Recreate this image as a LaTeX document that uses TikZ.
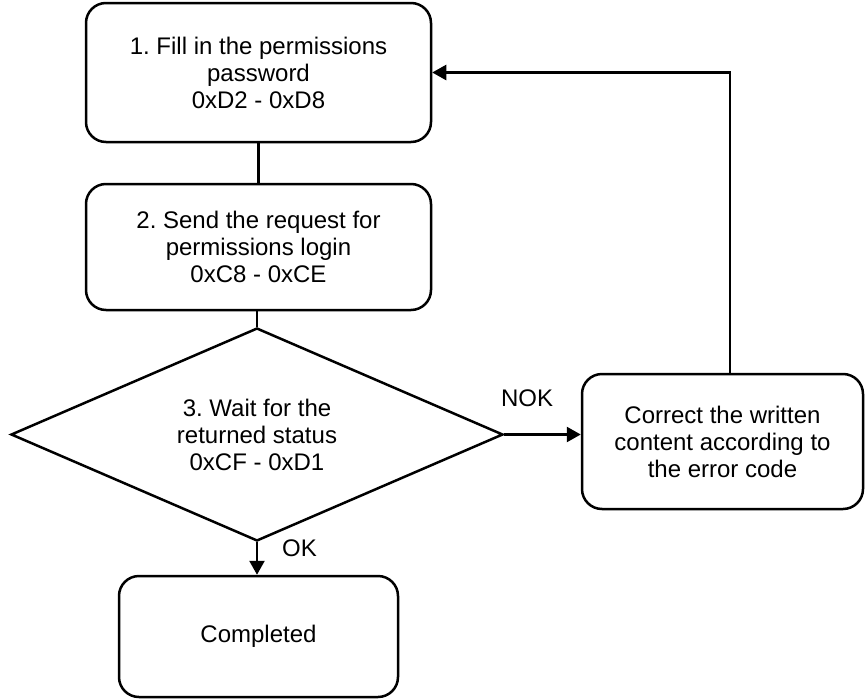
\documentclass[tikz,border=0pt]{standalone}
\usepackage{fontspec}
\setmainfont{Liberation Sans}
\usetikzlibrary{shapes.geometric,arrows.meta,calc}
\frenchspacing
\begin{document}
\begin{tikzpicture}[x=1pt,y=-1pt, line width=2.5pt,
 every node/.style={font=\fontsize{24}{27}\selectfont},
 proc/.style={draw, rounded corners=20pt, inner sep=0pt, align=center},
 dec/.style={draw, diamond, shape aspect=2.31, inner sep=0pt, align=center},
 arr/.style={-{Triangle[length=14pt,width=15pt]}},
 lbl/.style={inner sep=0pt}]
\useasboundingbox (0,0) rectangle (865,699);
\node[proc, minimum width=345pt, minimum height=139pt] (b1) at (258.5,72.5)
  {1. Fill in the permissions\\password\\0xD2 - 0xD8};
\node[proc, minimum width=345pt, minimum height=126pt] (b2) at (258.5,247)
  {2. Send the request for\\permissions login\\0xC8 - 0xCE};
\node[dec, minimum width=492pt, minimum height=213pt] (d) at (257,434.5)
  {3. Wait for the\\returned status\\0xCF - 0xD1};
\node[proc, minimum width=281pt, minimum height=135pt] (b4) at (722.5,441.5)
  {Correct the written\\content according to\\the error code};
\node[proc, minimum width=279pt, minimum height=121pt] (b5) at (258.5,636.5)
  {Completed};
\node[lbl] (nok) at (527,398) {NOK};
\node[lbl] (ok) at (299.5,548) {OK};
\coordinate (up) at ($(b4.north)+(7.5,0)$);
\draw (b1.south) -- (b2.north);
\draw (b2.south -| d.north) -- (d.north);
\draw[arr] (d.south) -- (d.south |- b5.north);
\draw[arr] (d.east) -- (d.east -| b4.west);
\draw[arr] (up) |- (b1.east);
\end{tikzpicture}
\end{document}
